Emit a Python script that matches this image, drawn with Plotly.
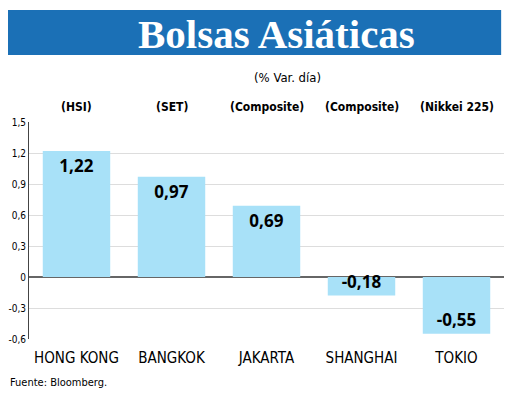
import plotly.graph_objects as go

# Datos del gráfico
mercados = ["HONG KONG", "BANGKOK", "JAKARTA", "SHANGHAI", "TOKIO"]
indices = ["(HSI)", "(SET)", "(Composite)", "(Composite)", "(Nikkei 225)"]
variacion = [1.22, 0.97, 0.69, -0.18, -0.55]
etiquetas = ["1,22", "0,97", "0,69", "-0,18", "-0,55"]
y_ticks = [1.5, 1.2, 0.9, 0.6, 0.3, 0, -0.3, -0.6]
y_ticktext = ["1,5", "1,2", "0,9", "0,6", "0,3", "0", "-0,3", "-0,6"]

narrow = "DejaVu Sans Condensed, Liberation Sans Narrow, Liberation Sans"

fig = go.Figure(go.Bar(
    x=mercados, y=variacion, text=etiquetas,
    textposition="inside", insidetextanchor="end", constraintext="none",
    textfont=dict(family="Open Sans", size=17, color="black", weight="bold"),
    marker=dict(color="#a8e1f8", line=dict(width=0)),
    cliponaxis=False,
))

# Barra azul del título
fig.add_shape(type="rect", xref="paper", yref="paper",
              x0=-0.05, x1=0.994, y0=1.516, y1=1.309,
              fillcolor="#1b70b6", line=dict(width=0), layer="below")
fig.add_annotation(text="<b>Bolsas Asiáticas</b>", xref="paper", yref="paper",
                   x=0.52, y=1.405, showarrow=False, xanchor="center", yanchor="middle",
                   font=dict(family="Liberation Serif", size=41, color="white"))
fig.add_annotation(text="(% Var. día)", xref="paper", yref="paper",
                   x=0.545, y=1.249, showarrow=False,
                   font=dict(family=narrow, size=13, color="black"))

for m, idx in zip(mercados, indices):
    fig.add_annotation(text=idx, x=m, xref="x", yref="paper", y=1.11,
                       showarrow=False,
                       font=dict(family=narrow, size=12, color="black", weight="bold"))

fig.add_annotation(text="Fuente: Bloomberg.", xref="paper", yref="paper",
                   x=-0.045, y=-0.24, xanchor="left", showarrow=False,
                   font=dict(family=narrow, size=11, color="black"))

fig.update_layout(
    width=512, height=398,
    margin=dict(l=21, r=16, t=114, b=67),
    paper_bgcolor="white", plot_bgcolor="white",
    bargap=0.29, showlegend=False,
    xaxis=dict(showgrid=False, ticks="", showline=False, tickangle=0,
               automargin=False, ticklabelstandoff=8,
               tickfont=dict(family=narrow, size=15, color="black")),
    yaxis=dict(range=[-0.6, 1.5], tickvals=y_ticks, ticktext=y_ticktext,
               automargin=False,
               showgrid=True, gridcolor="#dddddd", gridwidth=1,
               zeroline=True, zerolinecolor="#666666", zerolinewidth=1.5,
               showline=True, linecolor="#444444", linewidth=1,
               ticks="", ticklabelstandoff=0,
               tickfont=dict(family=narrow, size=10, color="black")),
)

fig.write_html("out.html")
